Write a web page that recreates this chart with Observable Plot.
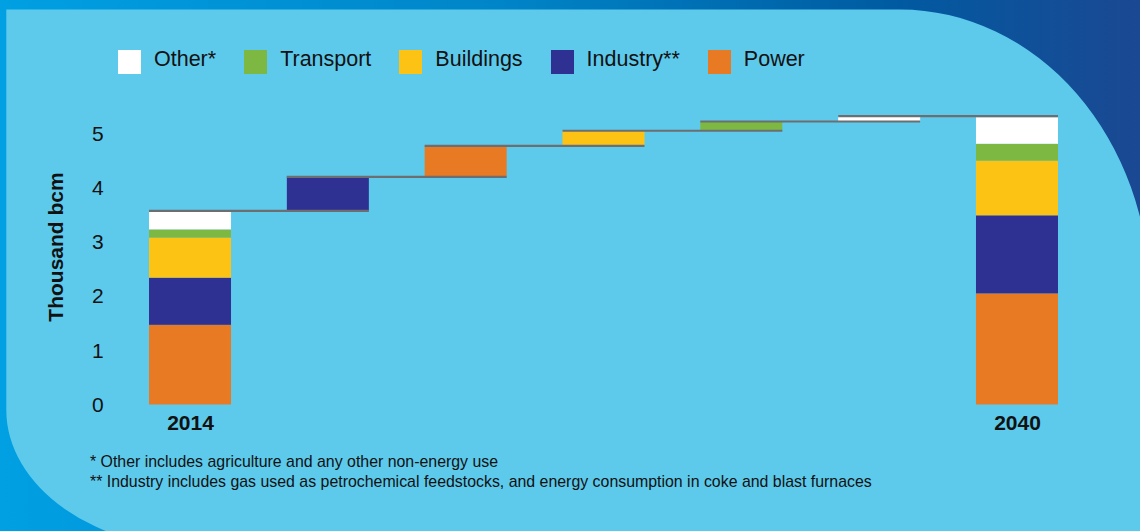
<!DOCTYPE html>
<html>
<head>
<meta charset="utf-8">
<script src="https://cdn.jsdelivr.net/npm/d3@7"></script>
<script src="https://cdn.jsdelivr.net/npm/@observablehq/plot@0.6"></script>
<style>
  html, body { margin: 0; padding: 0; }
  body { width: 1140px; height: 531px; overflow: hidden; font-family: "Liberation Sans", Arial, Helvetica, sans-serif; }
  #wrap { position: relative; width: 1140px; height: 531px; }
  #bg { position: absolute; left: 0; top: 0; }
  #chart { position: absolute; left: 0; top: 0; }
  #legend { position: absolute; left: 118px; top: 49px; display: flex; align-items: center; font-size: 21.5px; color: #111; white-space: nowrap; }
  .item { display: flex; align-items: center; margin-right: 28px; }
  .sw { width: 23px; height: 24px; margin-right: 13px; }
  .lt { position: relative; top: -2px; }
  #ylabel { position: absolute; left: -44px; top: 235px; width: 200px; height: 24px; line-height: 24px; text-align: center;
            font-size: 21px; font-weight: bold; color: #111; transform: rotate(-90deg); white-space: nowrap; }
  #notes { position: absolute; left: 90px; top: 452px; font-size: 15.9px; line-height: 19.5px; color: #111; white-space: nowrap; }
</style>
</head>
<body>
<div id="wrap">
  <svg id="bg" width="1140" height="531" viewBox="0 0 1140 531">
    <defs>
      <linearGradient id="g" x1="0" y1="0" x2="1" y2="0">
        <stop offset="0" stop-color="#00A0E3"/>
        <stop offset="0.45" stop-color="#0084C7"/>
        <stop offset="0.78" stop-color="#005BA2"/>
        <stop offset="1" stop-color="#1B4892"/>
      </linearGradient>
    </defs>
    <rect x="0" y="0" width="1140" height="531" fill="url(#g)"/>
    <path d="M6.3 9.5 L900 9.5 A250 288 0 0 1 1150 297.5 L1150 560 L206 560 L206 550 A200 140 0 0 1 6.3 410 Z" fill="#5DCAEC"/>
  </svg>
  <div id="chart"></div>
  <div id="legend"></div>
  <div id="ylabel">Thousand bcm</div>
  <div id="notes"></div>
</div>
<script>
// ---- data ----
const sectors = ["Power", "Industry**", "Buildings", "Transport", "Other*"];      // stack order, bottom to top
const sectorColors = ["#E87A24", "#2E3192", "#FCC314", "#7DB843", "#FFFFFF"];
const legendOrder = ["Other*", "Transport", "Buildings", "Industry**", "Power"];
const years = ["2014", "2040"];
const values2014 = [1.47, 0.87, 0.74, 0.15, 0.35];                                 // Power, Industry, Buildings, Transport, Other
const stepSectors = ["Industry**", "Power", "Buildings", "Transport", "Other*"];
const stepValues = [0.63, 0.57, 0.28, 0.17, 0.10];
const values2040 = [2.05, 1.44, 1.01, 0.31, 0.49];
const yTicks = [0, 1, 2, 3, 4, 5];
const yLabel = "Thousand bcm";
const footnotes = [
  "* Other includes agriculture and any other non-energy use",
  "** Industry includes gas used as petrochemical feedstocks, and energy consumption in coke and blast furnaces"
];

// ---- build tables ----
const rows = [];
let acc = 0;
sectors.forEach((s, i) => { rows.push({bar: 0, sector: s, y1: acc, y2: acc + values2014[i]}); acc += values2014[i]; });
const levels = [{k: 0, level: acc}];
stepSectors.forEach((s, i) => {
  rows.push({bar: i + 1, sector: s, y1: acc, y2: acc + stepValues[i]});
  acc += stepValues[i];
  levels.push({k: i + 1, level: acc});
});
let acc2 = 0;
sectors.forEach((s, i) => { rows.push({bar: 6, sector: s, y1: acc2, y2: acc2 + values2040[i]}); acc2 += values2040[i]; });

const hw = 0.2975; // half bar width in band units
const yearPos = [0, 6];

const chart = Plot.plot({
  width: 1140,
  height: 531,
  marginLeft: 121.1,
  marginRight: 54.1,
  marginTop: 111.8,
  marginBottom: 126.5,
  x: {domain: [-0.5, 6.5], axis: null},
  y: {domain: [0, 5.4], axis: null},
  color: {domain: sectors, range: sectorColors},
  style: {background: "transparent", fontFamily: "'Liberation Sans', Arial, Helvetica, sans-serif", color: "#111", overflow: "visible"},
  marks: [
    Plot.rect(rows, {x1: d => d.bar - hw, x2: d => d.bar + hw, y1: "y1", y2: "y2", fill: "sector"}),
    Plot.ruleY(levels, {y: "level", x1: d => d.k - hw, x2: d => d.k + 1 + hw, stroke: "#6D6E71", strokeWidth: 2.2}),
    Plot.axisY(yTicks, {tickSize: 0, tickPadding: 18, fontSize: 21, label: null, tickFormat: d3.format("d")}),
    Plot.axisX(yearPos, {tickSize: 0, tickPadding: 10, fontSize: 21, fontWeight: "bold", label: null,
                         tickFormat: v => years[yearPos.indexOf(v)]})
  ]
});
document.getElementById("chart").appendChild(chart);

// legend
const leg = document.getElementById("legend");
legendOrder.forEach(name => {
  const item = document.createElement("div");
  item.className = "item";
  const sw = document.createElement("div");
  sw.className = "sw";
  sw.style.background = sectorColors[sectors.indexOf(name)];
  const t = document.createElement("span");
  t.className = "lt";
  t.textContent = name;
  item.appendChild(sw); item.appendChild(t);
  leg.appendChild(item);
});

document.getElementById("ylabel").textContent = yLabel;
const notes = document.getElementById("notes");
footnotes.forEach(f => { const d = document.createElement("div"); d.textContent = f; notes.appendChild(d); });
</script>
</body>
</html>
